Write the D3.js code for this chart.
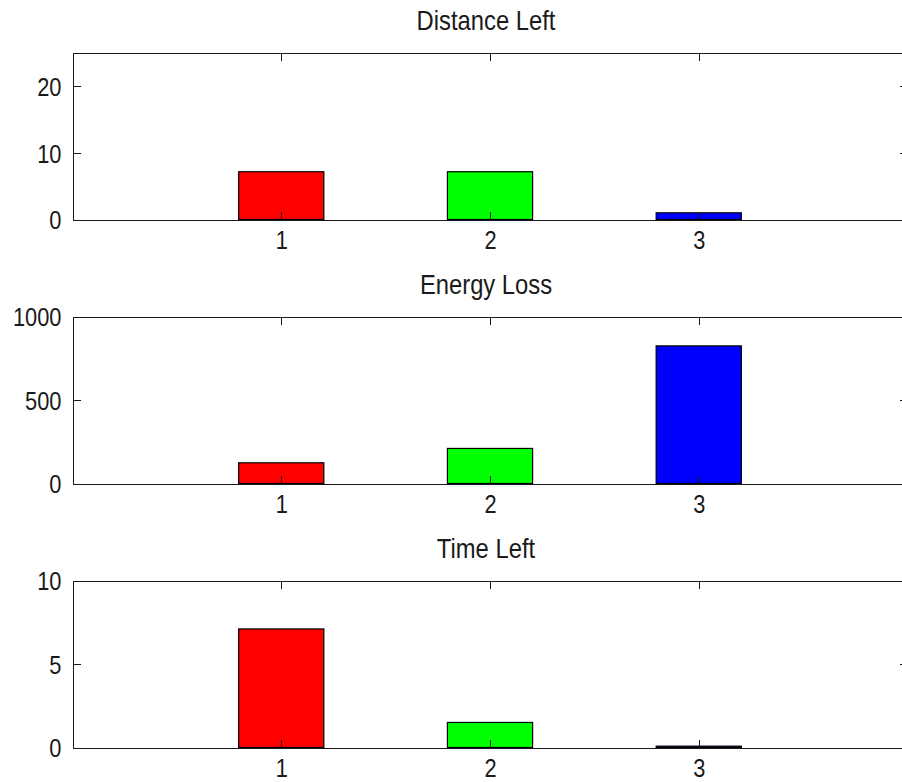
<!DOCTYPE html>
<html>
<head>
<meta charset="utf-8">
<script src="https://cdn.jsdelivr.net/npm/d3@7"></script>
<style>
  html, body { margin: 0; padding: 0; background: #fff; }
  svg { display: block; }
  .axis path, .axis line { stroke: #1a1a1a; shape-rendering: crispEdges; }
  .axis text { fill: #1a1a1a; font-family: "Liberation Sans", Arial, sans-serif; }
</style>
</head>
<body>
<svg id="chart" width="902" height="782"></svg>
<script>
// Category positions along the x axis
const categories = [1, 2, 3];
const barColors = ["#ff0000", "#00ff00", "#0000ff"];

// Panel titles
const titles = ["Distance Left", "Energy Loss", "Time Left"];

// Series values, one per panel
const distanceLeft = [7.15, 7.15, 1.0];
const energyLoss = [124, 210, 824];
const timeLeft = [7.1, 1.5, 0.08];

// Y tick labels per panel
const distanceTicks = [0, 10, 20];
const energyTicks = [0, 500, 1000];
const timeTicks = [0, 5, 10];

// Axis limits
const xLimits = [0, 4];
const yLimits = [[0, 25], [0, 1000], [0, 10]];

const panels = [
  { title: titles[0], values: distanceLeft, ticks: distanceTicks, ylim: yLimits[0] },
  { title: titles[1], values: energyLoss, ticks: energyTicks, ylim: yLimits[1] },
  { title: titles[2], values: timeLeft, ticks: timeTicks, ylim: yLimits[2] }
];

const svg = d3.select("#chart");
const left = 72.5, right = 907.5;
const panelTops = [52.5, 316.5, 580.5];
const panelHeight = 167;
const fontSize = 26;
const titleSize = 28;
const tickScaleX = 0.84;
const titleScaleX = 0.85;
const titleX = 486;
const barWidth = 0.408;

const x = d3.scaleLinear().domain(xLimits).range([left, right]);

// Squeeze axis labels horizontally around their anchor
function squeezeText(sel, sx) {
  sel.each(function () {
    const t = d3.select(this);
    const tx = +t.attr("x") || 0;
    t.attr("x", 0).attr("transform", `translate(${tx},0) scale(${sx},1)`);
  });
}

panels.forEach((p, i) => {
  const top = panelTops[i];
  const bottom = top + panelHeight;
  const y = d3.scaleLinear().domain(p.ylim).range([bottom, top]);
  const g = svg.append("g");

  // Bars
  g.selectAll("rect.bar")
    .data(p.values)
    .join("rect")
    .attr("class", "bar")
    .attr("x", (d, j) => x(categories[j] - barWidth / 2))
    .attr("width", (d, j) => x(categories[j] + barWidth / 2) - x(categories[j] - barWidth / 2))
    .attr("y", d => y(d))
    .attr("height", d => y(0) - y(d))
    .attr("fill", (d, j) => barColors[j])
    .attr("stroke", "#000")
    .attr("stroke-width", 1.2);

  // Bottom axis with labels
  const xb = g.append("g").attr("class", "axis")
    .attr("transform", `translate(0,${bottom})`)
    .call(d3.axisBottom(x).tickValues(categories).tickFormat(d3.format("d"))
      .tickSizeInner(-8).tickSizeOuter(0).tickPadding(11));
  xb.selectAll("text").attr("font-size", fontSize).attr("dy", "0.72em");
  squeezeText(xb.selectAll("text"), tickScaleX);

  // Top axis, ticks only
  g.append("g").attr("class", "axis")
    .attr("transform", `translate(0,${top})`)
    .call(d3.axisTop(x).tickValues(categories).tickFormat("")
      .tickSizeInner(-8).tickSizeOuter(0));

  // Left axis with labels
  const yl = g.append("g").attr("class", "axis")
    .attr("transform", `translate(${left},0)`)
    .call(d3.axisLeft(y).tickValues(p.ticks).tickFormat(d3.format("d"))
      .tickSizeInner(-8).tickSizeOuter(0).tickPadding(11));
  yl.selectAll("text").attr("font-size", fontSize).attr("dy", "0.36em");
  squeezeText(yl.selectAll("text"), tickScaleX);

  // Right axis, ticks only
  g.append("g").attr("class", "axis")
    .attr("transform", `translate(${right},0)`)
    .call(d3.axisRight(y).tickValues(p.ticks).tickFormat("")
      .tickSizeInner(-8).tickSizeOuter(0));

  g.selectAll(".axis").attr("font-family", null).attr("font-size", null);

  // Title
  g.append("text")
    .attr("transform", `translate(${titleX},${top - 23}) scale(${titleScaleX},1)`)
    .attr("text-anchor", "middle")
    .attr("font-family", "Liberation Sans, Arial, sans-serif")
    .attr("font-size", titleSize)
    .attr("fill", "#1a1a1a")
    .text(p.title);
});
</script>
</body>
</html>
